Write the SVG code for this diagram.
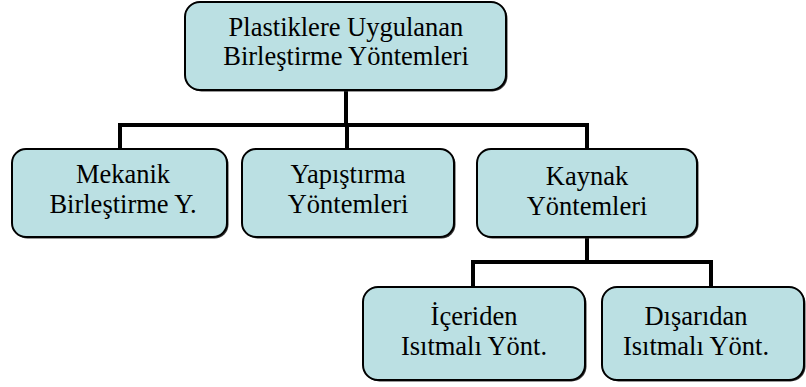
<svg xmlns="http://www.w3.org/2000/svg" width="806" height="387" viewBox="0 0 806 387">
<style>
.box{fill:#BBE0E3;stroke:#000;stroke-width:2}
.sh{fill:#333;stroke:none}
.t{font-family:'Liberation Serif','Times New Roman',Times,serif;font-size:26.5px;fill:#000;text-anchor:middle}
.c{fill:none;stroke:#000;stroke-width:4;stroke-linejoin:miter;stroke-linecap:butt}
</style>
<g id="connectors">
<path class="c" d="M346,90 V125"/>
<path class="c" d="M120,149 V125 H587 V149"/>
<path class="c" d="M347,125 V149"/>
<path class="c" d="M587,237 V262"/>
<path class="c" d="M473,286 V262 H711 V286"/>
</g>
<g id="n-root">
<rect class="sh" x="186.5" y="3.5" width="321" height="88" rx="15"/>
<rect class="box" x="185" y="2" width="321" height="88" rx="15"/>
<text class="t" x="346" y="36">Plastiklere Uygulanan</text>
<text class="t" x="346" y="65">Birleştirme Yöntemleri</text>
</g>
<g id="n-mekanik">
<rect class="sh" x="13.5" y="150.5" width="215" height="88" rx="14"/>
<rect class="box" x="12" y="149" width="215" height="88" rx="14"/>
<text class="t" x="123" y="183">Mekanik</text>
<text class="t" x="123" y="213">Birleştirme Y.</text>
</g>
<g id="n-yapistirma">
<rect class="sh" x="243.5" y="150.5" width="212" height="88" rx="14"/>
<rect class="box" x="242" y="149" width="212" height="88" rx="14"/>
<text class="t" x="348" y="183">Yapıştırma</text>
<text class="t" x="348" y="213">Yöntemleri</text>
</g>
<g id="n-kaynak">
<rect class="sh" x="478.5" y="150.5" width="220" height="88" rx="14"/>
<rect class="box" x="477" y="149" width="220" height="88" rx="14"/>
<text class="t" x="587" y="185">Kaynak</text>
<text class="t" x="587" y="215">Yöntemleri</text>
</g>
<g id="n-iceriden">
<rect class="sh" x="364.5" y="288.5" width="222" height="93" rx="15"/>
<rect class="box" x="363" y="287" width="222" height="93" rx="15"/>
<text class="t" x="474" y="325">İçeriden</text>
<text class="t" x="474" y="355">Isıtmalı Yönt.</text>
</g>
<g id="n-disaridan">
<rect class="sh" x="603.5" y="288.5" width="202" height="93" rx="15"/>
<rect class="box" x="602" y="287" width="202" height="93" rx="15"/>
<text class="t" x="696" y="325">Dışarıdan</text>
<text class="t" x="696" y="355">Isıtmalı Yönt.</text>
</g>
</svg>
